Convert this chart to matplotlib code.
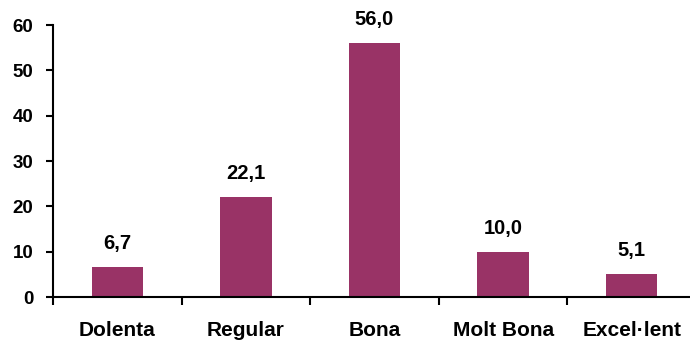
import matplotlib
matplotlib.use('Agg')
import matplotlib.pyplot as plt
import numpy as np

# Valoració (%) per categoria
categories = ['Dolenta', 'Regular', 'Bona', 'Molt Bona', 'Excel·lent']
values = [6.7, 22.1, 56.0, 10.0, 5.1]

plt.rcParams['font.family'] = ['Liberation Sans', 'DejaVu Sans']
plt.rcParams['font.weight'] = 'bold'

fig = plt.figure(figsize=(6.9, 3.4), dpi=100)
# l'eix x continua fins més enllà de la vora dreta
ax = fig.add_axes([53 / 690, 43 / 340, 643 / 690, 272 / 340])

x = np.arange(len(categories))
bars = ax.bar(x, values, width=0.4, color='#993366', zorder=2)

for xi, v in zip(x, values):
    ax.annotate(f'{v:.1f}'.replace('.', ','), (xi, v), xytext=(0, 10),
                textcoords='offset points', ha='center', va='bottom',
                fontsize=14.5, fontweight='bold')

ax.set_xlim(-0.5, len(categories) - 0.5)
ax.set_ylim(0, 60)
ax.set_yticks(range(0, 61, 10))
ax.tick_params(axis='y', labelsize=13.5, length=5, width=1.5, pad=9)

# marques de l'eix x entre categories
ax.set_xticks(np.arange(-0.5, len(categories)), minor=False)
ax.set_xticklabels([])
ax.set_xticks(x, minor=True)
ax.set_xticklabels(categories, minor=True, fontsize=15, fontweight='bold')
ax.tick_params(axis='x', which='major', length=6, width=1.5, direction='out')
ax.tick_params(axis='x', which='minor', length=0, pad=17)

for s in ['top', 'right']:
    ax.spines[s].set_visible(False)
for s in ['left', 'bottom']:
    ax.spines[s].set_linewidth(1.5)

fig.savefig('out.png', dpi=100)
